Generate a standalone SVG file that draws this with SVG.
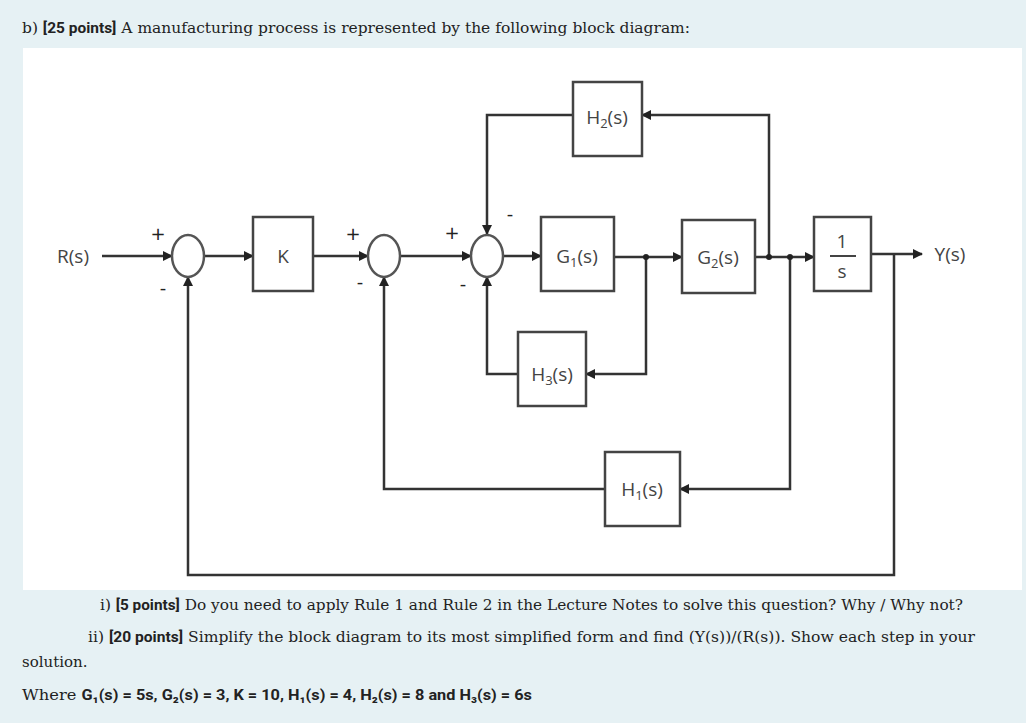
<svg xmlns="http://www.w3.org/2000/svg" width="1026" height="723" viewBox="0 0 1026 723">
<defs>
<marker id="ah" markerWidth="10" markerHeight="10" refX="9" refY="5" orient="auto" markerUnits="userSpaceOnUse"><path d="M0,0 L10,5 L0,10 z" fill="#222"/></marker>
<style>
.b{fill:#fff;stroke:#444;stroke-width:2.5}
.l{fill:none;stroke:#333;stroke-width:2.5}
.s{fill:#fff;stroke:#555;stroke-width:2.5}
.t{font-family:"Open Sans",sans-serif;font-size:19px;fill:#444;text-anchor:middle}
.g{font-family:"DejaVu Sans",sans-serif;font-size:18px;fill:#222;text-anchor:middle}
.p{font-family:"DejaVu Serif",serif;font-size:15px;fill:#222}
.pb{font-family:Roboto,sans-serif;font-weight:bold}
</style>
</defs>
<rect width="1026" height="723" fill="#e6f1f4"/>
<rect x="23" y="48" width="999" height="542" fill="#fff"/>
<text class="p" x="22" y="33" textLength="668" lengthAdjust="spacingAndGlyphs">b)  <tspan class="pb">[25 points]</tspan> A manufacturing process is represented by the following block diagram:</text>
<g id="connectors">
<line class="l" x1="102" y1="256" x2="172" y2="256" marker-end="url(#ah)"/>
<line class="l" x1="204" y1="256" x2="253" y2="256" marker-end="url(#ah)"/>
<line class="l" x1="313" y1="256" x2="368" y2="256" marker-end="url(#ah)"/>
<line class="l" x1="400" y1="256" x2="471" y2="256" marker-end="url(#ah)"/>
<line class="l" x1="503" y1="256" x2="541" y2="256" marker-end="url(#ah)"/>
<line class="l" x1="614" y1="257" x2="682" y2="257" marker-end="url(#ah)"/>
<line class="l" x1="755" y1="257" x2="814" y2="257" marker-end="url(#ah)"/>
<line class="l" x1="871" y1="254" x2="922" y2="254" marker-end="url(#ah)"/>
<polyline class="l" points="769,257 769,115 642,115" marker-end="url(#ah)"/>
<polyline class="l" points="573,115 487,115 487,234" marker-end="url(#ah)"/>
<polyline class="l" points="646,257 646,374 586,374" marker-end="url(#ah)"/>
<polyline class="l" points="518,374 487,374 487,277" marker-end="url(#ah)"/>
<polyline class="l" points="790,257 790,489 680,489" marker-end="url(#ah)"/>
<polyline class="l" points="605,489 384,489 384,277" marker-end="url(#ah)"/>
<polyline class="l" points="894,254 894,575 188,575 188,277" marker-end="url(#ah)"/>
<circle cx="646" cy="257" r="3" fill="#222"/>
<circle cx="769" cy="257" r="3" fill="#222"/>
<circle cx="790" cy="257" r="3" fill="#222"/>
</g>
<g id="sum1"><ellipse class="s" cx="188" cy="256" rx="16" ry="21"/><text class="g" x="158" y="240">+</text><text class="g" x="163" y="294">-</text></g>
<g id="sum2"><ellipse class="s" cx="384" cy="256" rx="16" ry="21"/><text class="g" x="353" y="240">+</text><text class="g" x="360" y="288">-</text></g>
<g id="sum3"><ellipse class="s" cx="487" cy="256" rx="16" ry="21"/><text class="g" x="452" y="239">+</text><text class="g" x="463" y="290">-</text><text class="g" x="510" y="220">-</text></g>
<g id="R"><text class="t" x="73" y="263">R(s)</text></g>
<g id="K"><rect class="b" x="253" y="217" width="60" height="74"/><text class="t" x="283" y="263">K</text></g>
<g id="G1"><rect class="b" x="541" y="217" width="73" height="74"/><text class="t" x="577" y="263">G<tspan font-size="13" dy="4">1</tspan><tspan dy="-4">(s)</tspan></text></g>
<g id="G2"><rect class="b" x="682" y="220" width="73" height="73"/><text class="t" x="718" y="264">G<tspan font-size="13" dy="4">2</tspan><tspan dy="-4">(s)</tspan></text></g>
<g id="integ"><rect class="b" x="814" y="217" width="57" height="74"/><text class="t" x="842" y="248" font-size="17">1</text><line x1="830" y1="256" x2="856" y2="256" stroke="#444" stroke-width="2"/><text class="t" x="842" y="278" font-size="17">s</text></g>
<g id="Y"><text class="t" x="950" y="261">Y(s)</text></g>
<g id="H2"><rect class="b" x="573" y="82" width="69" height="74"/><text class="t" x="607" y="124">H<tspan font-size="13" dy="4">2</tspan><tspan dy="-4">(s)</tspan></text></g>
<g id="H3"><rect class="b" x="518" y="332" width="68" height="74"/><text class="t" x="552" y="381">H<tspan font-size="13" dy="4">3</tspan><tspan dy="-4">(s)</tspan></text></g>
<g id="H1"><rect class="b" x="605" y="452" width="75" height="74"/><text class="t" x="642" y="496">H<tspan font-size="13" dy="4">1</tspan><tspan dy="-4">(s)</tspan></text></g>
<text class="p" x="100" y="610" textLength="863" lengthAdjust="spacingAndGlyphs">i)  <tspan class="pb">[5 points]</tspan> Do you need to apply Rule 1 and Rule 2 in the Lecture Notes to solve this question?  Why / Why not?</text>
<text class="p" x="88" y="642" textLength="887" lengthAdjust="spacingAndGlyphs">ii)  <tspan class="pb">[20 points]</tspan> Simplify the block diagram to its most simplified form and find (Y(s))/(R(s)).  Show each step in your</text>
<text class="p" x="22" y="667">solution.</text>
<text class="p" x="22" y="700" textLength="510" lengthAdjust="spacingAndGlyphs">Where <tspan class="pb">G₁(s) = 5s, G₂(s) = 3, K = 10, H₁(s) = 4, H₂(s) = 8 and H₃(s) = 6s</tspan></text>
</svg>
